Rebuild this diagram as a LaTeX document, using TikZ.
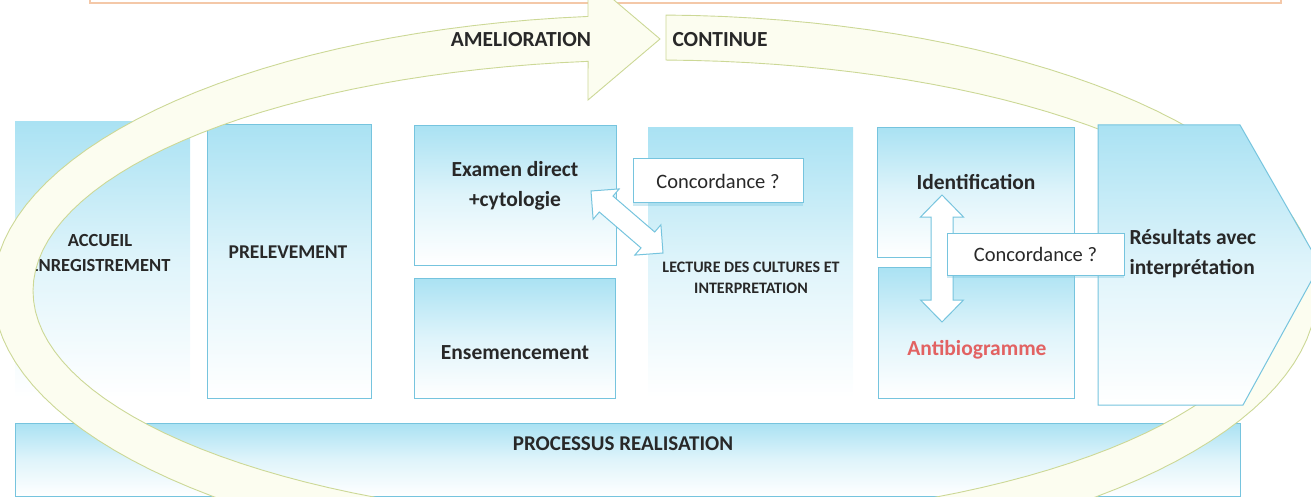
\documentclass[tikz,border=0pt]{standalone}
\usepackage{fontspec}
\setmainfont{Carlito}
\usetikzlibrary{calc,shadows}

\definecolor{boxtop}{RGB}{170,226,243}
\definecolor{boxline}{RGB}{118,196,222}
\definecolor{ringfill}{RGB}{252,253,240}
\definecolor{ringline}{RGB}{204,216,150}
\definecolor{peachline}{RGB}{244,200,168}
\definecolor{inkgray}{RGB}{40,40,40}
\definecolor{antired}{RGB}{226,98,98}

% block arrow with a head at both ends: tip, tip, head length, half head width, half shaft width
\newcommand{\blockarrow}[5]{%
  \draw[arrowbox] (#1)
    -- ($(#1)!#3!(#2)!#4!90:(#2)$)
    -- ($(#1)!#3!(#2)!#5!90:(#2)$)
    -- ($(#2)!#3!(#1)!#5!-90:(#1)$)
    -- ($(#2)!#3!(#1)!#4!-90:(#1)$)
    -- (#2)
    -- ($(#2)!#3!(#1)!#4!90:(#1)$)
    -- ($(#2)!#3!(#1)!#5!90:(#1)$)
    -- ($(#1)!#3!(#2)!#5!-90:(#2)$)
    -- ($(#1)!#3!(#2)!#4!-90:(#2)$)
    -- cycle;}

\begin{document}
\begin{tikzpicture}[x=1pt,y=-1pt,
  procbox/.style={draw=boxline,line width=1pt,top color=boxtop,bottom color=white,middle color=boxtop!38,inner sep=0pt},
  softbox/.style={procbox,draw=none},
  askbox/.style={draw=boxline,line width=1pt,fill=white,inner sep=0pt,text=inkgray,
    font=\fontsize{20.5}{24}\selectfont,
    drop shadow={shadow xshift=0pt,shadow yshift=-3pt,fill=boxline,opacity=.35}},
  ringband/.style={draw=ringline,fill=ringfill,line width=.9pt},
  arrowbox/.style={draw=boxline,fill=white,line width=1pt},
  bigtxt/.style={font=\fontsize{21.5}{30}\selectfont\bfseries,text=inkgray,align=center},
  captxt/.style={font=\fontsize{19.5}{25}\selectfont\bfseries,text=inkgray,align=center}]
\useasboundingbox (0,0) rectangle (1311,497);
\clip (0,0) rectangle (1311,497);
% Drawing top frame
\draw[peachline,line width=1.4pt,fill=white] (90,-20) rectangle (1281,3);
% Drawing boxes
\node[softbox,minimum width=175pt,minimum height=276pt] (accueil) at (102.5,260) {};
\node[procbox,minimum width=164pt,minimum height=273pt] (prelev) at (289,261.5) {};
\node[procbox,minimum width=202pt,minimum height=139pt] (examen) at (515,195.5) {};
\node[procbox,minimum width=201pt,minimum height=120pt] (ensem) at (514.5,338) {};
\node[softbox,minimum width=205pt,minimum height=270pt] (lecture) at (750.5,263) {};
\node[procbox,minimum width=197pt,minimum height=129pt] (ident) at (975.5,192.5) {};
\node[procbox,minimum width=196pt,minimum height=131pt] (antibio) at (976,332.5) {};
\node[procbox,minimum width=1225pt,minimum height=73pt] (proces) at (627.5,459.5) {};
% Done with boxes; drawing box texts
\node[captxt,font=\fontsize{18.5}{25}\selectfont\bfseries] (accueiltxt) at (100,252.5) {ACCUEIL\\ENREGISTREMENT};
\node[captxt] (prelevtxt) at (288,252) {PRELEVEMENT};
\node[bigtxt] (examentxt) at (515,186) {Examen direct\\+cytologie};
\node[bigtxt] (ensemtxt) at (515,353) {Ensemencement};
\node[captxt,font=\fontsize{16}{21}\selectfont\bfseries] (lecturetxt) at (751,278) {LECTURE DES CULTURES ET\\INTERPRETATION};
\node[bigtxt] (identtxt) at (976,182) {Identification};
\node[bigtxt,text=antired] (antibiotxt) at (977,350) {Antibiogramme};
\node[captxt,font=\fontsize{21}{25}\selectfont\bfseries] (procestxt) at (623,444) {PROCESSUS REALISATION};
% Done with texts; drawing ring
\path[ringband] plot[domain=-89.05:264.19,samples=140] ({655+662*cos(\x)},{291+276*sin(\x)})
  -- (588,-22) -- (660,39) -- (588,100)
  -- plot[domain=263.82:-88.99,samples=140] ({655+622*cos(\x)},{291+231*sin(\x)}) -- cycle;
\node[captxt,font=\fontsize{21.5}{25}\selectfont\bfseries] (amelio) at (521,40) {AMELIORATION};
\node[captxt,font=\fontsize{21.5}{25}\selectfont\bfseries] (contin) at (720,40) {CONTINUE};
% Done with ring; drawing results
\path[procbox] (1098,125) -- (1240,125) -- (1320,265) -- (1243,405) -- (1098,405) -- cycle;
\node[bigtxt,align=left,anchor=west] (restxt) at (1126,254) {Résultats avec\\interprétation};
% Drawing concordance arrows and labels
\coordinate (diagA) at (591,191);
\coordinate (diagB) at (663,253);
\blockarrow{diagA}{diagB}{20pt}{20pt}{10.5pt}
\coordinate (vertA) at (942,195);
\coordinate (vertB) at (942,322);
\blockarrow{vertA}{vertB}{22pt}{21.5pt}{11pt}
\node[askbox,minimum width=170pt,minimum height=44pt] (ask1) at (718,181) {Concordance ?};
\node[askbox,minimum width=177pt,minimum height=42pt] (ask2) at (1035.5,254) {Concordance ?};
% Done
\end{tikzpicture}
\end{document}
